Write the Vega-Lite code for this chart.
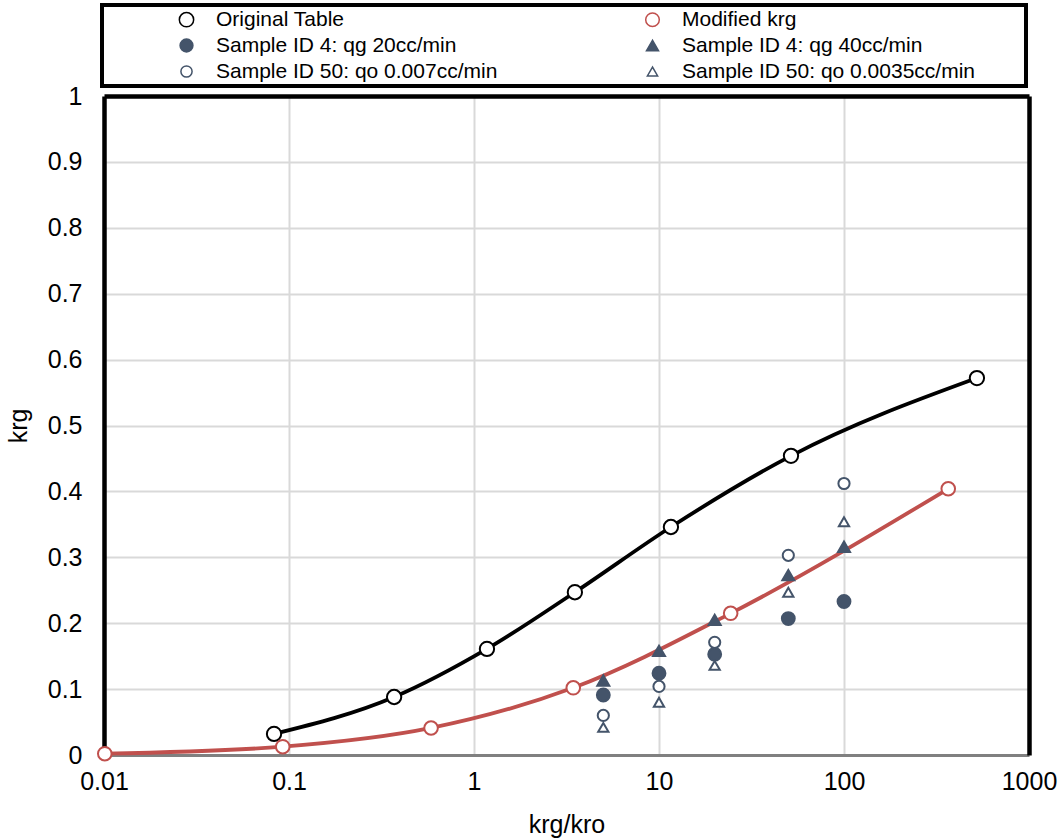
{
  "$schema": "https://vega.github.io/schema/vega-lite/v6.json",
  "width": 925,
  "height": 659,
  "autosize": "none",
  "padding": {"left": 104, "top": 96, "right": 32, "bottom": 83},
  "background": "white",
  "config": {
    "font": "Liberation Sans",
    "view": {"stroke": null},
    "axis": {"labelFont": "Liberation Sans", "titleFont": "Liberation Sans", "labelColor": "black", "titleColor": "black"},
    "legend": {"strokeWidth": 4}
  },
  "data": {
    "values": [
      {"s": "Original Table", "x": 0.083, "y": 0.032},
      {"s": "Original Table", "x": 0.37, "y": 0.088},
      {"s": "Original Table", "x": 1.175, "y": 0.161},
      {"s": "Original Table", "x": 3.51, "y": 0.247},
      {"s": "Original Table", "x": 11.6, "y": 0.346},
      {"s": "Original Table", "x": 51.7, "y": 0.454},
      {"s": "Original Table", "x": 523, "y": 0.572},
      {"s": "Modified krg", "x": 0.0101, "y": 0.002},
      {"s": "Modified krg", "x": 0.0925, "y": 0.0126},
      {"s": "Modified krg", "x": 0.586, "y": 0.041},
      {"s": "Modified krg", "x": 3.44, "y": 0.102},
      {"s": "Modified krg", "x": 24.4, "y": 0.215},
      {"s": "Modified krg", "x": 366, "y": 0.404},
      {"s": "Sample ID 4: qg 20cc/min", "x": 5, "y": 0.091},
      {"s": "Sample ID 4: qg 20cc/min", "x": 10, "y": 0.124},
      {"s": "Sample ID 4: qg 20cc/min", "x": 20, "y": 0.153},
      {"s": "Sample ID 4: qg 20cc/min", "x": 50, "y": 0.207},
      {"s": "Sample ID 4: qg 20cc/min", "x": 100, "y": 0.233},
      {"s": "Sample ID 4: qg 40cc/min", "x": 5, "y": 0.113},
      {"s": "Sample ID 4: qg 40cc/min", "x": 10, "y": 0.158},
      {"s": "Sample ID 4: qg 40cc/min", "x": 20, "y": 0.205},
      {"s": "Sample ID 4: qg 40cc/min", "x": 50, "y": 0.273},
      {"s": "Sample ID 4: qg 40cc/min", "x": 100, "y": 0.316},
      {"s": "Sample ID 50: qo 0.007cc/min", "x": 5, "y": 0.06},
      {"s": "Sample ID 50: qo 0.007cc/min", "x": 10, "y": 0.104},
      {"s": "Sample ID 50: qo 0.007cc/min", "x": 20, "y": 0.171},
      {"s": "Sample ID 50: qo 0.007cc/min", "x": 50, "y": 0.303},
      {"s": "Sample ID 50: qo 0.007cc/min", "x": 100, "y": 0.412},
      {"s": "Sample ID 50: qo 0.0035cc/min", "x": 5, "y": 0.042},
      {"s": "Sample ID 50: qo 0.0035cc/min", "x": 10, "y": 0.08},
      {"s": "Sample ID 50: qo 0.0035cc/min", "x": 20, "y": 0.136},
      {"s": "Sample ID 50: qo 0.0035cc/min", "x": 50, "y": 0.247},
      {"s": "Sample ID 50: qo 0.0035cc/min", "x": 100, "y": 0.354}
    ]
  },
  "resolve": {"axis": {"x": "independent", "y": "independent"}},
  "layer": [
    {
      "transform": [{"filter": "datum.s === 'Original Table' || datum.s === 'Modified krg'"}],
      "mark": {"type": "line", "interpolate": "monotone", "strokeWidth": 3.8},
      "encoding": {
        "x": {"field": "x", "type": "quantitative", "scale": {"type": "log", "domain": [0.01, 1000]},
          "axis": {"orient": "top", "values": [0.1, 1, 10, 100], "labels": false, "ticks": false, "title": null, "grid": true, "gridColor": "#d9d9d9", "gridWidth": 2, "domain": true, "domainColor": "black", "domainWidth": 4.5}},
        "y": {"field": "y", "type": "quantitative", "scale": {"domain": [0, 1]},
          "axis": {"orient": "right", "values": [0.1, 0.2, 0.3, 0.4, 0.5, 0.6, 0.7, 0.8, 0.9], "labels": false, "ticks": false, "title": null, "grid": true, "gridColor": "#d9d9d9", "gridWidth": 2, "domain": true, "domainColor": "black", "domainWidth": 4.5}},
        "stroke": {"field": "s", "type": "nominal",
          "scale": {"domain": ["Original Table", "Modified krg", "Sample ID 4: qg 20cc/min", "Sample ID 4: qg 40cc/min", "Sample ID 50: qo 0.007cc/min", "Sample ID 50: qo 0.0035cc/min"],
                    "range": ["#000000", "#C0504D", "#44546A", "#44546A", "#44546A", "#44546A"]}}
      }
    },
    {
      "mark": {"type": "point", "filled": true, "opacity": 1, "strokeWidth": 2},
      "encoding": {
        "x": {"field": "x", "type": "quantitative",
          "axis": {"orient": "bottom", "values": [0.01, 0.1, 1, 10, 100, 1000], "labelExpr": "format(datum.value, '~g')", "labelFlush": false, "labelOverlap": false, "labelFontSize": 25, "labelPadding": 14, "ticks": false, "grid": false, "domainColor": "#808080", "domainWidth": 3, "title": "krg/kro", "titleFontSize": 25, "titleFontWeight": "normal", "titlePadding": 18}},
        "y": {"field": "y", "type": "quantitative",
          "axis": {"orient": "left", "values": [0, 0.1, 0.2, 0.3, 0.4, 0.5, 0.6, 0.7, 0.8, 0.9, 1], "labelExpr": "format(datum.value, '~g')", "labelFlush": false, "labelOverlap": false, "labelFontSize": 25, "labelPadding": 22, "ticks": false, "grid": false, "domainColor": "black", "domainWidth": 4.5, "title": "krg", "titleFontSize": 25, "titleFontWeight": "normal", "titlePadding": 16}},
        "stroke": {"field": "s", "type": "nominal",
          "legend": {
            "title": " ", "titleOrient": "right", "titlePadding": 47, "titleFontSize": 21,
            "orient": "none", "legendX": -2, "legendY": -91, "columns": 2, "direction": "horizontal",
            "strokeColor": "black", "padding": 4, "fillColor": "white",
            "labelFont": "Liberation Sans", "labelFontSize": 21, "labelColor": "black", "labelLimit": 500,
            "rowPadding": 4, "columnPadding": 74, "symbolOffset": 70, "labelOffset": 19
          }},
        "fill": {"field": "s", "type": "nominal",
          "scale": {"domain": ["Original Table", "Modified krg", "Sample ID 4: qg 20cc/min", "Sample ID 4: qg 40cc/min", "Sample ID 50: qo 0.007cc/min", "Sample ID 50: qo 0.0035cc/min"],
                    "range": ["#ffffff", "#ffffff", "#44546A", "#44546A", "#ffffff", "#ffffff"]},
          "legend": null},
        "shape": {"field": "s", "type": "nominal",
          "scale": {"domain": ["Original Table", "Modified krg", "Sample ID 4: qg 20cc/min", "Sample ID 4: qg 40cc/min", "Sample ID 50: qo 0.007cc/min", "Sample ID 50: qo 0.0035cc/min"],
                    "range": ["circle", "circle", "circle", "triangle-up", "circle", "triangle-up"]},
          "legend": null},
        "size": {"field": "s", "type": "nominal",
          "scale": {"domain": ["Original Table", "Modified krg", "Sample ID 4: qg 20cc/min", "Sample ID 4: qg 40cc/min", "Sample ID 50: qo 0.007cc/min", "Sample ID 50: qo 0.0035cc/min"],
                    "range": [205, 105, 165, 260, 135, 210]},
          "legend": null}
      }
    }
  ]
}
